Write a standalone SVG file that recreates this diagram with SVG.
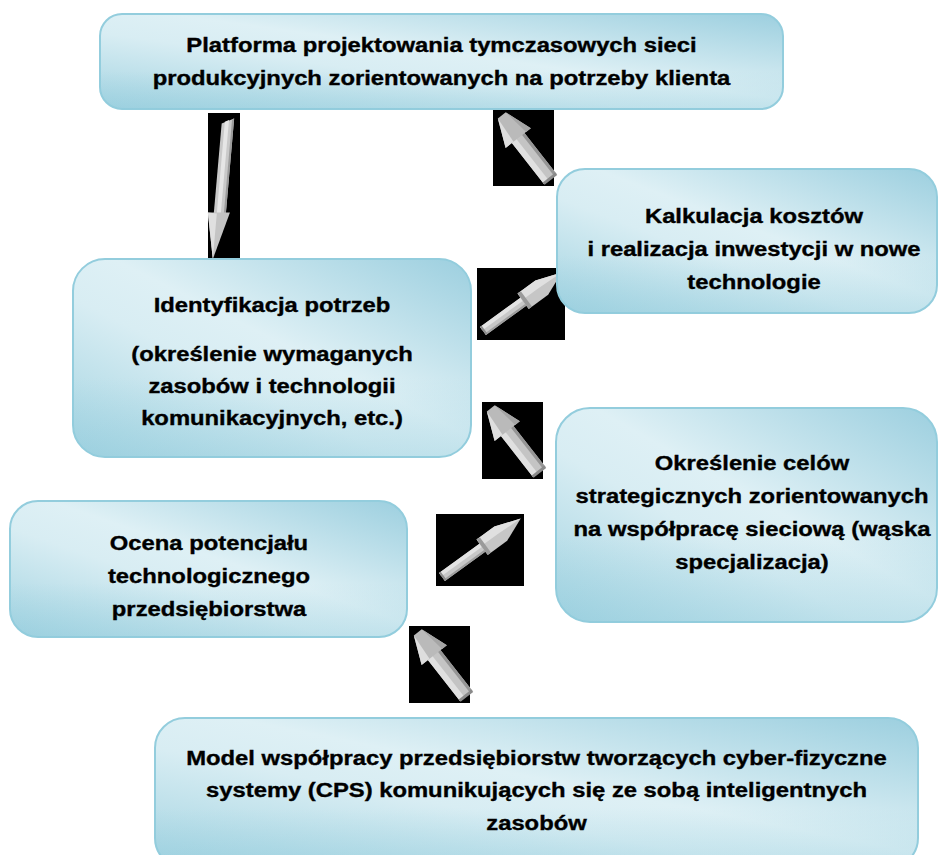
<svg xmlns="http://www.w3.org/2000/svg" xmlns:xlink="http://www.w3.org/1999/xlink" width="939" height="855" viewBox="0 0 939 855">
<defs>
<linearGradient id="gd" x1="1" y1="0" x2="0" y2="1">
<stop offset="0" stop-color="#9ccfdf"/>
<stop offset="0.45" stop-color="#def0f5"/>
<stop offset="0.6" stop-color="#d8edf3"/>
<stop offset="1" stop-color="#a2d3e1"/>
</linearGradient>
<linearGradient id="gv" x1="0" y1="0" x2="0" y2="1">
<stop offset="0.6" stop-color="#8ecadb" stop-opacity="0"/>
<stop offset="1" stop-color="#8ecadb" stop-opacity="0.35"/>
</linearGradient>
<g id="upleft">
<rect x="0" y="0" width="61" height="77" fill="#000"/>
<g transform="translate(8 7) rotate(-38)">
<polygon points="-8,26 8,26 8,80 -8,80" fill="#c4c4c4"/>
<polygon points="-8,26 -2,26 -2,80 -8,80" fill="#e0e0e0"/>
<polygon points="5,26 8,26 8,80 5,80" fill="#959595"/>
<polygon points="-8,78 8,78 8,81 -8,81" fill="#8a8a8a"/>
<polygon points="-4,0 6,0 16,28 -16,28" fill="#bababa"/>
<polygon points="-4,0 -16,28 -6,28" fill="#dedede"/>
<polygon points="6,0 16,28 10,28" fill="#a5a5a5"/>
</g>
</g>
<g id="upright">
<rect x="0" y="0" width="88" height="72" fill="#000"/>
<g transform="translate(6 63) rotate(-36)">
<polygon points="0,-5 52,-5 52,5 0,5" fill="#c8c8c8"/>
<polygon points="0,-5 52,-5 52,-1 0,-1" fill="#e3e3e3"/>
<polygon points="0,3 52,3 52,5 0,5" fill="#9e9e9e"/>
<polygon points="0,-5 2,-5 2,5 0,5" fill="#8c8c8c"/>
<polygon points="50,-10 72,-10 98,-1 74,9 50,9" fill="#c6c6c6"/>
<polygon points="50,-10 72,-10 98,-1 70,-2 50,-2" fill="#e0e0e0"/>
<polygon points="50,-10 54,-10 54,9 50,9" fill="#9a9a9a"/>
</g>
</g>
</defs>
<style>
.box{fill:url(#gd);stroke:#93cddd;stroke-width:2}
.shade{fill:url(#gv);stroke:none}
.t{font-family:"Liberation Sans",Arial,sans-serif;font-weight:bold;font-size:20px;fill:#000;stroke:#000;stroke-width:0.35;text-anchor:middle}
</style>
<rect width="939" height="855" fill="#fff"/>
<g id="connectors">
<g id="arrow1">
<rect x="208" y="113" width="32" height="150" fill="#000"/>
<g transform="translate(228 120) rotate(5)">
<polygon points="-6,4 6,-2 6,96 -6,96" fill="#c9c9c9"/>
<polygon points="-3,2 1,0 1,96 -3,96" fill="#e6e6e6"/>
<polygon points="4,-1 6,-2 6,96 4,96" fill="#9c9c9c"/>
<polygon points="-12,94 10,92 -3,140" fill="#c4c4c4"/>
<polygon points="-12,94 -3,94 -3,140" fill="#e0e0e0"/>
</g>
</g>
<use id="arrow2" xlink:href="#upleft" href="#upleft" x="493" y="109"/>
<use id="arrow3" xlink:href="#upright" href="#upright" x="477" y="268"/>
<use id="arrow4" xlink:href="#upleft" href="#upleft" x="482" y="402"/>
<use id="arrow5" xlink:href="#upright" href="#upright" x="436" y="514"/>
<use id="arrow6" xlink:href="#upleft" href="#upleft" x="409" y="626"/>
</g>
<g id="node-platforma">
<rect class="box" x="100" y="14" width="683" height="95" rx="22"/>
<rect class="shade" x="100" y="14" width="683" height="95" rx="22"/>
<g transform="translate(441.5 0) scale(1.19 1)">
<text class="t" x="0" y="52">Platforma projektowania tymczasowych sieci</text>
<text class="t" x="0" y="85">produkcyjnych zorientowanych na potrzeby klienta</text>
</g>
</g>
<g id="node-kalkulacja">
<rect class="box" x="557" y="169" width="380" height="144" rx="28"/>
<rect class="shade" x="557" y="169" width="380" height="144" rx="28"/>
<g transform="translate(754 0) scale(1.19 1)">
<text class="t" x="0" y="223">Kalkulacja kosztów</text>
<text class="t" x="0" y="256">i realizacja inwestycji w nowe</text>
<text class="t" x="0" y="289">technologie</text>
</g>
</g>
<g id="node-identyfikacja">
<rect class="box" x="73" y="259" width="398" height="198" rx="32"/>
<rect class="shade" x="73" y="259" width="398" height="198" rx="32"/>
<g transform="translate(272 0) scale(1.19 1)">
<text class="t" x="0" y="312">Identyfikacja potrzeb</text>
<text class="t" x="0" y="361">(określenie wymaganych</text>
<text class="t" x="0" y="393">zasobów i technologii</text>
<text class="t" x="0" y="425">komunikacyjnych, etc.)</text>
</g>
</g>
<g id="node-okreslenie">
<rect class="box" x="556" y="408" width="381" height="214" rx="34"/>
<rect class="shade" x="556" y="408" width="381" height="214" rx="34"/>
<g transform="translate(752 0) scale(1.19 1)">
<text class="t" x="0" y="470">Określenie celów</text>
<text class="t" x="0" y="503">strategicznych zorientowanych</text>
<text class="t" x="0" y="536">na współpracę sieciową (wąska</text>
<text class="t" x="0" y="569">specjalizacja)</text>
</g>
</g>
<g id="node-ocena">
<rect class="box" x="10" y="501" width="397" height="136" rx="28"/>
<rect class="shade" x="10" y="501" width="397" height="136" rx="28"/>
<g transform="translate(209 0) scale(1.19 1)">
<text class="t" x="0" y="550">Ocena potencjału</text>
<text class="t" x="0" y="583">technologicznego</text>
<text class="t" x="0" y="616">przedsiębiorstwa</text>
</g>
</g>
<g id="node-model">
<rect class="box" x="155" y="718" width="763" height="150" rx="30"/>
<rect class="shade" x="155" y="718" width="763" height="150" rx="30"/>
<g transform="translate(536.5 0) scale(1.19 1)">
<text class="t" x="0" y="765">Model współpracy przedsiębiorstw tworzących cyber-fizyczne</text>
<text class="t" x="0" y="797">systemy (CPS) komunikujących się ze sobą inteligentnych</text>
<text class="t" x="0" y="830">zasobów</text>
</g>
</g>
</svg>
